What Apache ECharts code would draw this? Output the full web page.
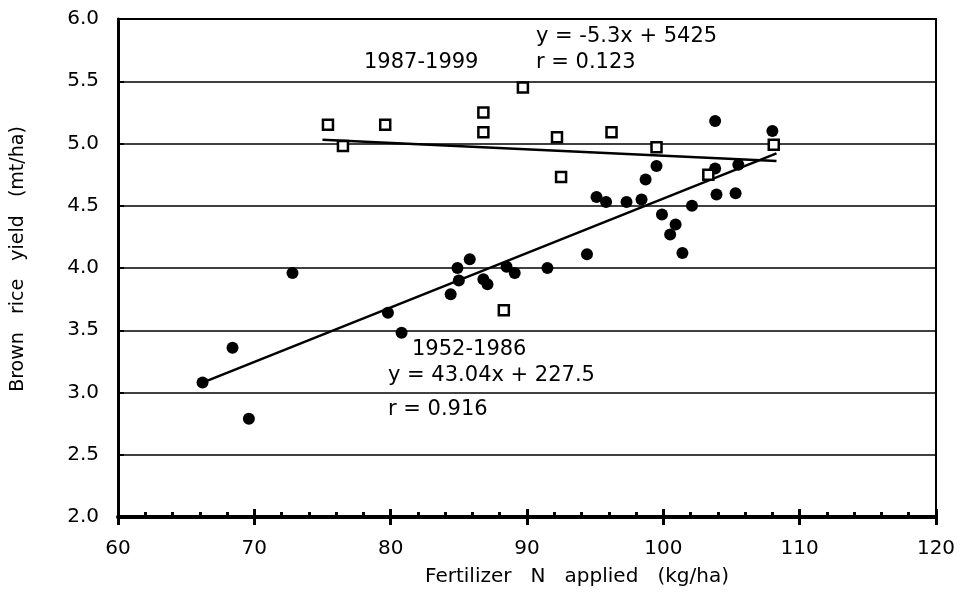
<!DOCTYPE html>
<html>
<head>
<meta charset="utf-8">
<script src="https://cdn.jsdelivr.net/npm/echarts@6/dist/echarts.min.js"></script>
<style>
  html, body { margin: 0; padding: 0; background: #fff; }
  #main { width: 962px; height: 592px; }
</style>
</head>
<body>
<div id="main"></div>
<script>
// 1952-1986 (filled circles)
var early = [
  [66.2, 3.08], [68.4, 3.36], [69.6, 2.79], [72.8, 3.96], [79.8, 3.64],
  [80.8, 3.48], [84.4, 3.79], [84.9, 4.00], [85.0, 3.90], [85.8, 4.07],
  [86.8, 3.91], [87.1, 3.87], [88.5, 4.01], [89.1, 3.96], [91.5, 4.00],
  [94.4, 4.11], [95.1, 4.57], [95.8, 4.53], [97.3, 4.53], [98.4, 4.55],
  [98.7, 4.71], [99.5, 4.82], [99.9, 4.43], [100.5, 4.27], [100.9, 4.35],
  [101.4, 4.12], [102.1, 4.50], [103.8, 4.80], [103.8, 5.18], [103.9, 4.59],
  [105.3, 4.60], [105.5, 4.83], [108.0, 5.10]
];
// 1987-1999 (open squares)
var late = [
  [75.4, 5.15], [76.5, 4.98], [79.6, 5.15], [86.8, 5.25], [86.8, 5.09],
  [89.7, 5.45], [92.2, 5.05], [96.2, 5.09], [99.5, 4.97], [92.5, 4.73],
  [103.3, 4.75], [108.1, 4.99], [88.3, 3.66]
];
// regression lines
var fitEarly = [[66.2, 3.08], [108.3, 4.92]];
var fitLate = [[75.0, 5.03], [108.3, 4.86]];

var xTicks = [60, 70, 80, 90, 100, 110, 120];
var yTicks = [2.0, 2.5, 3.0, 3.5, 4.0, 4.5, 5.0, 5.5, 6.0];

var chart = echarts.init(document.getElementById('main'));
var font = 'DejaVu Sans';

function note(x, y, txt) {
  return { type: 'text', left: x, top: y, style: { text: txt, fontSize: 21, fontFamily: font, fill: '#000' } };
}

var option = {
  animation: false,
  backgroundColor: '#fff',
  grid: {
    left: 118, right: 26, top: 19, bottom: 75,
    outerBoundsMode: 'none',
    show: true, borderColor: '#000', borderWidth: 2
  },
  xAxis: [{
    type: 'value', min: xTicks[0], max: xTicks[xTicks.length - 1], interval: 10,
    name: 'Fertilizer   N   applied   (kg/ha)', nameLocation: 'middle', nameGap: 50,
    nameTextStyle: { color: '#000', fontSize: 20, fontFamily: font, padding: [0, 0, 0, 100] },
    axisLine: { lineStyle: { color: '#000', width: 4 } },
    axisTick: { inside: true, length: 8, lineStyle: { color: '#000', width: 3 } },
    minorTick: { show: true, splitNumber: 5, length: 5, lineStyle: { color: '#000', width: 3 } },
    axisLabel: { color: '#000', fontSize: 20, fontFamily: font, margin: 22 },
    splitLine: { show: false }
  }, {
    type: 'value', min: xTicks[0], max: xTicks[xTicks.length - 1], interval: 10,
    position: 'bottom',
    axisLine: { show: false },
    axisTick: { inside: false, length: 8, lineStyle: { color: '#000', width: 3 } },
    axisLabel: { show: false },
    splitLine: { show: false }
  }],
  yAxis: {
    type: 'value', min: yTicks[0], max: yTicks[yTicks.length - 1], interval: 0.5,
    name: 'Brown   rice   yield   (mt/ha)', nameLocation: 'middle', nameGap: 90,
    nameTextStyle: { color: '#000', fontSize: 19, fontFamily: font, padding: [0, 0, 0, 18] },
    axisLine: { lineStyle: { color: '#000', width: 3 } },
    axisTick: { inside: true, length: 6, lineStyle: { color: '#000', width: 2 } },
    axisLabel: {
      color: '#000', fontSize: 20, fontFamily: font, margin: 19,
      formatter: function (v) { return v.toFixed(1); }
    },
    splitLine: { lineStyle: { color: '#000', width: 1.5 } }
  },
  series: [{
    type: 'line', data: fitEarly, symbol: 'none',
    lineStyle: { color: '#000', width: 2.5 }, z: 3
  }, {
    type: 'line', data: fitLate, symbol: 'none',
    lineStyle: { color: '#000', width: 2.5 }, z: 3
  }, {
    type: 'scatter', data: early, symbol: 'circle', symbolSize: 12,
    itemStyle: { color: '#000', opacity: 1 }, z: 4
  }, {
    type: 'scatter', data: late, symbol: 'rect', symbolSize: 10,
    itemStyle: { color: '#fff', borderColor: '#000', borderWidth: 2.5, opacity: 1 }, z: 5
  }],
  graphic: [
    note(536, 26, 'y = -5.3x + 5425'),
    note(536, 52, 'r = 0.123'),
    note(364, 52, '1987-1999'),
    note(412, 339, '1952-1986'),
    note(388, 365, 'y = 43.04x + 227.5'),
    note(388, 399, 'r = 0.916')
  ]
};

chart.setOption(option);
</script>
</body>
</html>
